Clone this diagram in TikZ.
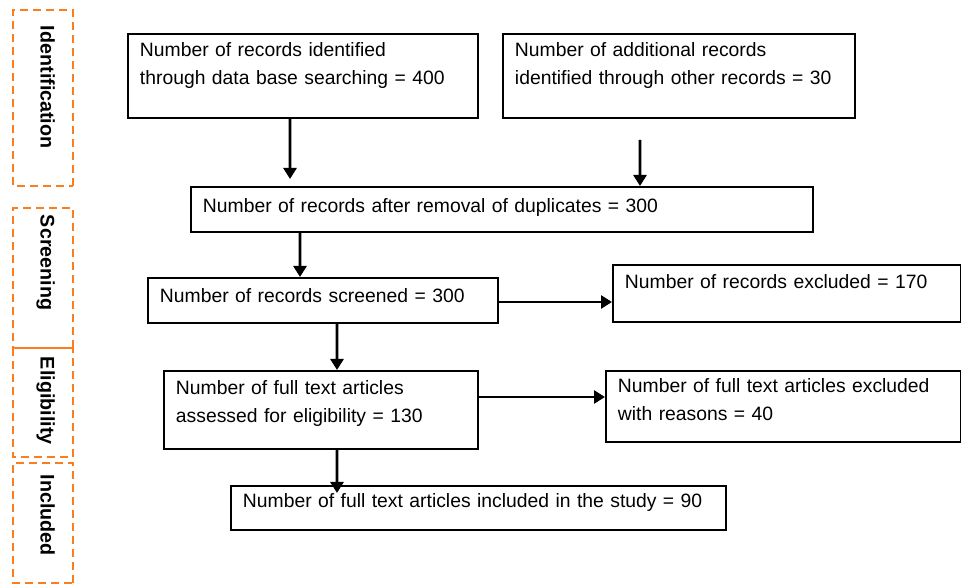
\documentclass[tikz,border=0pt]{standalone}
\usepackage{fontspec}
\setmainfont{Liberation Sans}
\usepackage{xcolor}
\usetikzlibrary{arrows.meta, positioning}
\definecolor{phaseorange}{RGB}{250, 125, 30}

\tikzset{
    recbox/.style={draw, line width=1.1pt, anchor=north west, align=left, inner xsep=0.24cm, inner ysep=0pt, font=\fontsize{11pt}{15.4pt}\selectfont},
    phasebox/.style={draw=phaseorange, line width=1.4pt, dash pattern=on 0.16cm off 0.1cm, rotate=-90, minimum height=1.2cm, inner sep=0pt, align=left, text height=0.3cm, text depth=0.2cm, font=\bfseries\fontsize{11.2pt}{13pt}\selectfont},
    flowarrow/.style={-{Triangle[length=0.22cm, width=0.26cm]}, line width=1.5pt}
}

\begin{document}
\begin{tikzpicture}
    \useasboundingbox (0, 0) rectangle (19.22, -11.76);

    % phases on the left
    \node[phasebox, minimum width=3.52cm, text width=2.88cm] (identification) at (0.86, -1.96) {Identification};
    \node[phasebox, minimum width=2.80cm, text width=2.52cm] (screening) at (0.86, -5.56) {Screening};
    \node[phasebox, minimum width=2.18cm, text width=1.82cm] (eligibility) at (0.86, -8.05) {Eligibility};
    \node[phasebox, minimum width=2.40cm, text width=1.92cm] (included) at (0.86, -10.46) {Included};

    % records
    \node[recbox, text width=6.52cm, text height=0.46cm, text depth=1.22cm] (database) at (2.54, -0.66) {Number of records identified\\through data base searching = 400};
    \node[recbox, text width=6.56cm, text height=0.46cm, text depth=1.22cm] (other) at (10.04, -0.66) {Number of additional records\\identified through other records = 30};
    \node[recbox, text width=11.96cm, text height=0.52cm, text depth=0.38cm] (dedup) at (3.80, -3.72) {Number of records after removal of duplicates = 300};
    \node[recbox, text width=6.52cm, text height=0.50cm, text depth=0.40cm] (screened) at (2.94, -5.54) {Number of records screened = 300};
    \node[recbox, text width=6.48cm, text height=0.48cm, text depth=0.66cm] (excluded) at (12.24, -5.28) {Number of records excluded = 170};
    \node[recbox, text width=5.80cm, text height=0.48cm, text depth=1.08cm] (fulltext) at (3.26, -7.40) {Number of full text articles\\assessed for eligibility = 130};
    \node[recbox, text width=6.62cm, text height=0.44cm, text depth=0.98cm] (reasons) at (12.10, -7.40) {Number of full text articles excluded\\with reasons = 40};
    \node[recbox, text width=9.42cm, text height=0.44cm, text depth=0.44cm] (study) at (4.60, -9.70) {Number of full text articles included in the study = 90};

    % arrows
    \draw[flowarrow, shorten >=0.14cm] ([xshift=3.26cm]database.south west) -- ([xshift=2.00cm]dedup.north west);
    \draw[flowarrow, shorten <=0.42cm] ([xshift=2.76cm]other.south west) -- ([xshift=9.00cm]dedup.north west);
    \draw[flowarrow] ([xshift=2.20cm]dedup.south west) -- ([xshift=3.06cm]screened.north west);
    \draw[flowarrow] ([yshift=-0.50cm]screened.north east) -- ([yshift=-0.76cm]excluded.north west);
    \draw[flowarrow] ([xshift=3.80cm]screened.south west) -- ([xshift=3.48cm]fulltext.north west);
    \draw[flowarrow] ([yshift=-0.54cm]fulltext.north east) -- ([yshift=-0.54cm]reasons.north west);
    \draw[flowarrow, shorten >=-0.16cm] ([xshift=3.48cm]fulltext.south west) -- ([xshift=2.14cm]study.north west);
\end{tikzpicture}
\end{document}
